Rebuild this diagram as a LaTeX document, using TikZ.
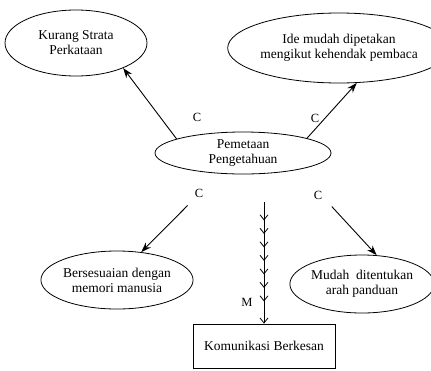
\documentclass[tikz,border=0pt]{standalone}
\usepackage{fontspec}
\setmainfont{Liberation Serif}
\usetikzlibrary{arrows.meta, positioning, shapes.geometric, decorations.markings}

\begin{document}
\begin{tikzpicture}[x=1pt, y=-1pt,
    oval/.style={draw, ellipse, inner sep=0pt, align=center, line width=0.8pt,
      font=\fontsize{13.5}{15}\selectfont},
    box/.style={draw, inner sep=0pt, line width=0.8pt, minimum width=142pt, minimum height=44pt,
      font=\fontsize{13.5}{15}\selectfont},
    lbl/.style={font=\fontsize{12.5}{14}\selectfont, inner sep=1pt},
    arrow/.style={-{Stealth[length=10pt, width=7pt]}, line width=0.9pt},
    chevline/.style={-{Straight Barb[length=5pt, width=8pt]}, line width=0.8pt,
      postaction={decorate},
      decoration={markings, mark=between positions 18pt and 110pt step 13.5pt
        with {\arrow{Straight Barb[length=5pt, width=8pt]}}}}]
  \useasboundingbox (0,0) rectangle (431,370);
  \node[oval, minimum width=176pt, minimum height=42pt] (pem) at (243,153) {Pemetaan\\Pengetahuan};
  \node[oval, minimum width=142pt, minimum height=66pt] (kur) at (76,43) {Kurang Strata\\Perkataan};
  \node[oval, minimum width=168pt, minimum height=70pt] (ide) at (339,48) {Ide mudah dipetakan\\mengikut kehendak pembaca};
  \node[oval, minimum width=134pt, minimum height=58pt] (ber) at (117,280) {Bersesuaian dengan\\memori manusia};
  \node[oval, minimum width=130pt, minimum height=58pt] (mud) at (362,284) {Mudah\ \ ditentukan\\arah panduan};
  \node[box] (kom) at (264,346) {Komunikasi Berkesan};
  % labels
  \node[lbl] (c1) at (197,117) {C};
  \node[lbl] (c2) at (315,118) {C};
  \node[lbl] (c3) at (199,193) {C};
  \node[lbl] (c4) at (318,195) {C};
  \node[lbl] (m1) at (247,302) {M};
  % connectors
  \draw[arrow] (pem.168) -- (kur.-28);
  \draw[arrow] (pem.13) -- (ide.-63);
  \draw[arrow, shorten <=45pt] (pem.221) -- (ber.49);
  \draw[arrow, shorten <=50pt] (pem.-17) -- (mud.63);
  \draw[chevline] ([yshift=-28pt]pem.south -| kom.north) -- (kom.north);
\end{tikzpicture}
\end{document}
